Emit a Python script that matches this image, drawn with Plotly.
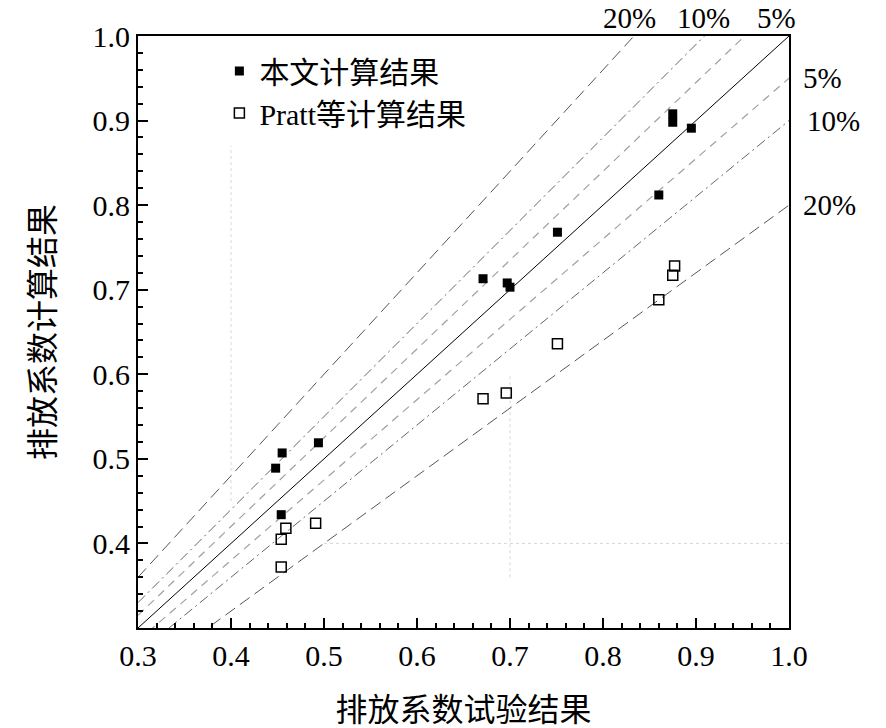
import plotly.graph_objects as go

# measured (x) vs calculated (y) discharge coefficients
ours_x = [0.448, 0.455, 0.494, 0.454, 0.671, 0.697, 0.700, 0.751, 0.860, 0.875, 0.875, 0.895]
ours_y = [0.489, 0.507, 0.519, 0.434, 0.713, 0.708, 0.703, 0.768, 0.812, 0.908, 0.898, 0.891]

pratt_x = [0.454, 0.459, 0.491, 0.454, 0.671, 0.696, 0.751, 0.860, 0.875, 0.877]
pratt_y = [0.405, 0.418, 0.424, 0.372, 0.571, 0.578, 0.636, 0.688, 0.717, 0.728]

# error band ratios
ratios = [1.2, 1.1, 1.05, 1.0, 0.95, 0.9, 0.8]
band_labels = ['20%', '10%', '5%', '', '5%', '10%', '20%']
x_ends = [0.3, 1.0]

x_ticks = [0.3, 0.4, 0.5, 0.6, 0.7, 0.8, 0.9, 1.0]
y_ticks = [0.4, 0.5, 0.6, 0.7, 0.8, 0.9, 1.0]

FONT = 'Liberation Serif, Noto Sans CJK SC, serif'

styles = {
    1.2: dict(color='#555555', dash='12px,6px', width=1),
    1.1: dict(color='#666666', dash='10px,4px,2px,4px', width=1),
    1.05: dict(color='#a0a0a0', dash='8px,6px', width=1.2),
    1.0: dict(color='black', dash='solid', width=1),
    0.95: dict(color='#a0a0a0', dash='8px,6px', width=1.2),
    0.9: dict(color='#666666', dash='10px,4px,2px,4px', width=1),
    0.8: dict(color='#555555', dash='12px,6px', width=1),
}

fig = go.Figure()

for r in ratios:
    fig.add_trace(go.Scatter(
        x=x_ends, y=[r * v for v in x_ends], mode='lines',
        line=styles[r], showlegend=False, hoverinfo='skip'
    ))

fig.add_trace(go.Scatter(
    x=ours_x, y=ours_y, mode='markers', name='本文计算结果',
    marker=dict(symbol='square', size=9, color='black')
))
fig.add_trace(go.Scatter(
    x=pratt_x, y=pratt_y, mode='markers', name='Pratt等计算结果',
    marker=dict(symbol='square-open', size=10, color='black', line=dict(width=1.5))
))

# faint dotted leftovers seen in the original
for x0, y0, x1, y1 in [(0.4, 0.45, 0.4, 0.87), (0.7, 0.36, 0.7, 0.6), (0.5, 0.4, 1.0, 0.4)]:
    fig.add_shape(type='line', x0=x0, y0=y0, x1=x1, y1=y1,
                  line=dict(color='#d8d8d8', width=1, dash='dot'), layer='below')

# band labels: upper lines on top, lower lines on right
top_x = [0.829, 0.908, 0.987]
for lbl, xv in zip(band_labels[:3], top_x):
    fig.add_annotation(x=xv, y=1.0, xref='x', yref='y', text=lbl, showarrow=False,
                       yanchor='bottom', yshift=0, font=dict(size=29, family=FONT, color='black'))
right_shift = [12, 16, 12]
for r, lbl, dx in zip(ratios[4:], band_labels[4:], right_shift):
    fig.add_annotation(x=1.0, y=r, xref='x', yref='y', text=lbl, showarrow=False,
                       xanchor='left', xshift=dx, font=dict(size=29, family=FONT, color='black'))

axis_common = dict(
    range=[0.3, 1.0], tickformat='.1f', ticks='inside', ticklen=10,
    tickwidth=1.5, tickcolor='black', showline=True, linecolor='black', linewidth=2,
    mirror=True, showgrid=False, zeroline=False, automargin=False,
    tickfont=dict(size=30, family=FONT, color='black'),
    minor=dict(dtick=0.02, ticks='inside', ticklen=5, tickwidth=1.5, tickcolor='black', showgrid=False),
)

fig.update_layout(
    width=886, height=728,
    margin=dict(l=138, r=97, t=36, b=100),
    plot_bgcolor='white', paper_bgcolor='white',
    xaxis=dict(title=dict(text='排放系数试验结果', font=dict(size=32, family=FONT, color='black'), standoff=34),
               tickvals=x_ticks, **axis_common),
    yaxis=dict(title=dict(text='排放系数计算结果', font=dict(size=32, family=FONT, color='black'), standoff=28),
               tickvals=y_ticks, **axis_common),
    legend=dict(x=0.125, y=0.985, xanchor='left', yanchor='top', bgcolor='rgba(0,0,0,0)',
                font=dict(size=30, family=FONT, color='black'), itemwidth=30, tracegroupgap=0),
    showlegend=True,
)

# drop the default page margin so the figure sits at the window corner
fig.write_html('out.html', config={'displayModeBar': False},
               post_script='document.body.style.margin = "0px";')
